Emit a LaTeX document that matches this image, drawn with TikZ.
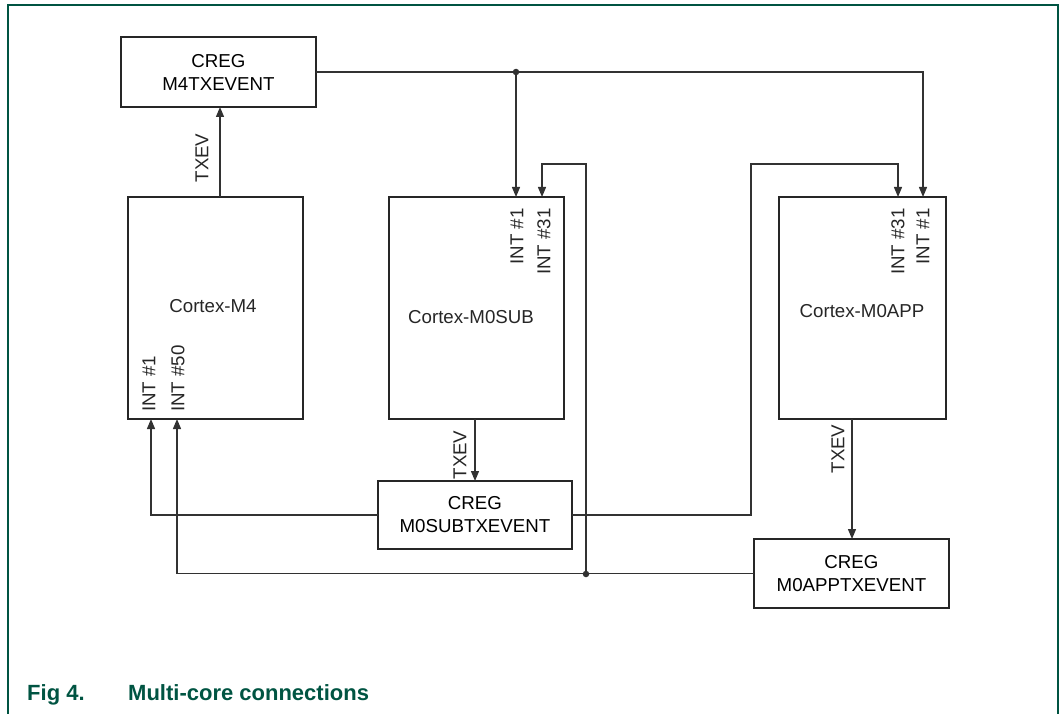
\documentclass[tikz,border=0pt]{standalone}
\usepackage{fontspec}
\setmainfont{Liberation Sans}
\usetikzlibrary{arrows.meta,calc}
\definecolor{nxpgreen}{RGB}{0,84,66}
\definecolor{wire}{RGB}{50,50,50}
\begin{document}
\begin{tikzpicture}[x=1pt,y=-1pt,
  blk/.style={draw=black!85,line width=2.8pt,inner sep=0pt,outer sep=0pt,
    font=\fontsize{18.7}{23}\selectfont,align=center},
  txt/.style={inner sep=0pt,font=\fontsize{18.7}{23}\selectfont,text=black!85},
  vlab/.style={txt,rotate=90},
  wirestyle/.style={draw=wire,line width=1.3pt},
  arr/.style={wirestyle,-{Triangle[length=10pt,width=8pt]}},
  jdot/.style={circle,fill=wire,inner sep=0pt,minimum size=6.5pt},
  captxt/.style={inner sep=0pt,font=\fontsize{22}{26}\selectfont\bfseries,text=nxpgreen,anchor=base west}]
\useasboundingbox (0,0) rectangle (1063,714);
% frame
\draw[nxpgreen,line width=1.4pt] (8,716) -- (8,5) -- (1058,5) -- (1058,716);

% blocks
\node[blk,minimum width=195pt,minimum height=70pt] (m4tx) at (218.5,72) {CREG\\M4TXEVENT};
\node[blk,minimum width=175pt,minimum height=222pt] (m4) at (215.5,308) {};
\node[blk,minimum width=175pt,minimum height=222pt] (m0sub) at (476.5,308) {};
\node[blk,minimum width=167pt,minimum height=222pt] (m0app) at (862.5,308) {};
\node[blk,minimum width=194pt,minimum height=68pt] (m0subtx) at (475,515) {CREG\\M0SUBTXEVENT};
\node[blk,minimum width=195pt,minimum height=69pt] (m0apptx) at (851.5,573.5) {CREG\\M0APPTXEVENT};

\node[txt] (m4name) at (213,306) {Cortex-M4};
\node[txt] (m0subname) at (471,317) {Cortex-M0SUB};
\node[txt] (m0appname) at (862,311) {Cortex-M0APP};

% column / row coordinates
\coordinate (cM4tx) at (220,0);
\coordinate (cSub1) at (516,0);
\coordinate (cSub31) at (542,0);
\coordinate (cBus) at (586,0);
\coordinate (cApp31) at (898,0);
\coordinate (cApp1) at (923,0);
\coordinate (cLoop) at (751,0);
\coordinate (cM4i1) at (151,0);
\coordinate (cM4i50) at (177,0);
\coordinate (cSubTx) at (475,0);
\coordinate (cAppTx) at (852,0);
\coordinate (rTop) at (0,164);
\coordinate (jTop) at (516,72);
\coordinate (jBot) at (586,574);

% TXEV of M4
\draw[arr] (m4.north -| cM4tx) -- (m4tx.south -| cM4tx);
\node[vlab] (txev1) at (202,158) {TXEV};

% M4TXEVENT to M0SUB INT#1 and M0APP INT#1
\draw[wirestyle] (m4tx.east) -- (jTop);
\draw[arr] (jTop) -- (m4tx.east -| cApp1) -- (m0app.north -| cApp1);
\draw[arr] (jTop) -- (m0sub.north -| cSub1);
\node[jdot] (d1) at (jTop) {};

% M0SUB TXEV
\draw[arr] (m0sub.south -| cSubTx) -- (m0subtx.north -| cSubTx);
\node[vlab] (txev2) at (460,455) {TXEV};

% M0APP TXEV
\draw[arr] (m0app.south -| cAppTx) -- (m0apptx.north -| cAppTx);
\node[vlab] (txev3) at (838,449) {TXEV};

% M0SUBTXEVENT to M4 INT#1 and M0APP INT#31
\draw[arr] (m0subtx.west) -- (m0subtx.west -| cM4i1) -- (m4.south -| cM4i1);
\draw[arr] (m0subtx.east) -- (m0subtx.east -| cLoop) -- (rTop -| cLoop) -- (rTop -| cApp31) -- (m0app.north -| cApp31);

% M0APPTXEVENT to M4 INT#50 and M0SUB INT#31
\draw[arr] (m0apptx.west) -- (m0apptx.west -| cM4i50) -- (m4.south -| cM4i50);
\draw[arr] (jBot) -- (rTop -| cBus) -- (rTop -| cSub31) -- (m0sub.north -| cSub31);
\node[jdot] (d2) at (jBot) {};

% INT labels
\node[vlab,anchor=west] (l1) at (149,412) {INT \#1};
\node[vlab,anchor=west] (l2) at (178,412) {INT \#50};
\node[vlab,anchor=east] (l3) at (517,208) {INT \#1};
\node[vlab,anchor=east] (l4) at (544,208) {INT \#31};
\node[vlab,anchor=east] (l5) at (898,208) {INT \#31};
\node[vlab,anchor=east] (l6) at (923,208) {INT \#1};

% caption
\node[captxt] (fig) at (27,700) {Fig 4.};
\node[captxt] (title) at (128,700) {Multi-core connections};
\end{tikzpicture}
\end{document}
